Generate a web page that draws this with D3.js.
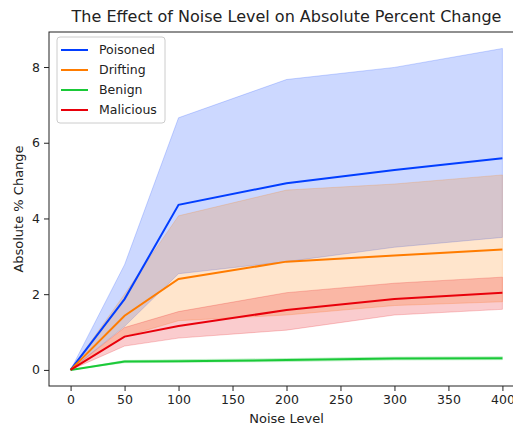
<!DOCTYPE html>
<html>
<head>
<meta charset="utf-8">
<script src="https://cdn.jsdelivr.net/npm/d3@7"></script>
<style>
  body { margin: 0; background: #fff; }
  svg { font-family: "DejaVu Sans", sans-serif; }
</style>
</head>
<body>
<div id="chart"></div>
<script>
// Chart values.
const noiseLevels = [0, 50, 100, 200, 300, 400];
const seriesNames = ["Poisoned", "Drifting", "Benign", "Malicious"];
const seriesColors = ["#023eff", "#ff7c00", "#1ac938", "#e8000b"];

const poisonedMean = [0, 1.87, 4.36, 4.93, 5.28, 5.59];
const poisonedLow = [0, 1.15, 2.54, 2.86, 3.24, 3.50];
const poisonedHigh = [0, 2.78, 6.66, 7.67, 7.99, 8.49];

const driftingMean = [0, 1.43, 2.40, 2.86, 3.02, 3.18];
const driftingLow = [0, 0.88, 1.30, 1.45, 1.70, 1.80];
const driftingHigh = [0, 2.00, 4.07, 4.75, 4.91, 5.15];

const benignMean = [0, 0.22, 0.23, 0.26, 0.30, 0.31];
const benignLow = [0, 0.19, 0.20, 0.22, 0.26, 0.27];
const benignHigh = [0, 0.25, 0.27, 0.30, 0.34, 0.35];

const maliciousMean = [0, 0.88, 1.16, 1.58, 1.87, 2.04];
const maliciousLow = [0, 0.63, 0.84, 1.05, 1.45, 1.60];
const maliciousHigh = [0, 1.12, 1.54, 2.04, 2.29, 2.45];

const xTicks = [0, 50, 100, 150, 200, 250, 300, 350, 400];
const yTicks = [0, 2, 4, 6, 8];

// Dimensions (axes box runs past the right edge, as in the reference).
const width = 513, height = 425;
const plot = { left: 49, right: 524, top: 32, bottom: 386 };

const svg = d3.select("#chart").append("svg")
  .attr("width", width)
  .attr("height", height);

const x = d3.scaleLinear().domain([-20, 420]).range([plot.left, plot.right]);
const y = d3.scaleLinear().domain([-0.425, 8.925]).range([plot.bottom, plot.top]);

const series = [
  { mean: poisonedMean, low: poisonedLow, high: poisonedHigh },
  { mean: driftingMean, low: driftingLow, high: driftingHigh },
  { mean: benignMean, low: benignLow, high: benignHigh },
  { mean: maliciousMean, low: maliciousLow, high: maliciousHigh }
].map((s, i) => ({
  name: seriesNames[i],
  color: seriesColors[i],
  points: noiseLevels.map((n, j) => ({ n, m: s.mean[j], lo: s.low[j], hi: s.high[j] }))
}));

// Confidence bands under all lines.
const area = d3.area()
  .x(d => x(d.n))
  .y0(d => y(d.lo))
  .y1(d => y(d.hi));

svg.append("g")
  .selectAll("path")
  .data(series)
  .join("path")
  .attr("d", d => area(d.points))
  .attr("fill", d => d.color)
  .attr("fill-opacity", 0.2)
  .attr("stroke", d => d.color)
  .attr("stroke-opacity", 0.2)
  .attr("stroke-width", 1);

const line = d3.line()
  .x(d => x(d.n))
  .y(d => y(d.m));

svg.append("g")
  .selectAll("path")
  .data(series)
  .join("path")
  .attr("d", d => line(d.points))
  .attr("fill", "none")
  .attr("stroke", d => d.color)
  .attr("stroke-width", 2);

// Axes
const xAxis = svg.append("g")
  .attr("transform", `translate(0,${plot.bottom})`)
  .call(d3.axisBottom(x).tickValues(xTicks).tickSize(5).tickPadding(4).tickSizeOuter(0));

const yAxis = svg.append("g")
  .attr("transform", `translate(${plot.left},0)`)
  .call(d3.axisLeft(y).tickValues(yTicks).tickSize(5).tickPadding(4).tickSizeOuter(0));

[xAxis, yAxis].forEach(a => {
  a.selectAll("text").attr("font-size", 12.5).attr("fill", "#222").attr("font-family", "DejaVu Sans");
  a.selectAll("line").attr("stroke", "#222");
  a.select(".domain").remove();
});

// Frame
svg.append("rect")
  .attr("x", plot.left)
  .attr("y", plot.top)
  .attr("width", plot.right - plot.left)
  .attr("height", plot.bottom - plot.top)
  .attr("fill", "none")
  .attr("stroke", "#222")
  .attr("stroke-width", 1);

// Title and axis labels
svg.append("text")
  .attr("x", (plot.left + plot.right) / 2)
  .attr("y", 22)
  .attr("text-anchor", "middle")
  .attr("font-size", 16)
  .attr("fill", "#222")
  .text("The Effect of Noise Level on Absolute Percent Change");

svg.append("text")
  .attr("x", (plot.left + plot.right) / 2)
  .attr("y", 423)
  .attr("text-anchor", "middle")
  .attr("font-size", 13)
  .attr("fill", "#222")
  .text("Noise Level");

svg.append("text")
  .attr("transform", `translate(23,${(plot.top + plot.bottom) / 2}) rotate(-90)`)
  .attr("text-anchor", "middle")
  .attr("font-size", 13)
  .attr("fill", "#222")
  .text("Absolute % Change");

// Legend
const legend = svg.append("g").attr("transform", "translate(57,37)");

legend.append("rect")
  .attr("width", 108)
  .attr("height", 86)
  .attr("rx", 3)
  .attr("fill", "#fff")
  .attr("fill-opacity", 0.8)
  .attr("stroke", "#ccc");

const item = legend.selectAll(".item")
  .data(series)
  .join("g")
  .attr("class", "item")
  .attr("transform", (d, i) => `translate(0,${13 + i * 20})`);

item.append("line")
  .attr("x1", 4).attr("x2", 31)
  .attr("stroke", d => d.color)
  .attr("stroke-width", 2);

item.append("text")
  .attr("x", 42)
  .attr("dy", "0.35em")
  .attr("font-size", 12.5)
  .attr("fill", "#222")
  .text(d => d.name);
</script>
</body>
</html>
